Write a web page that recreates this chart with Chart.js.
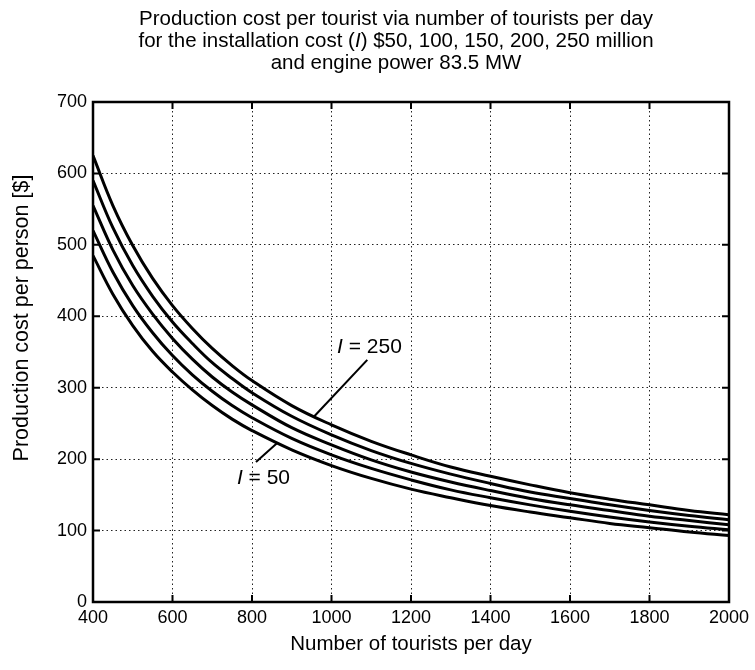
<!DOCTYPE html>
<html>
<head>
<meta charset="utf-8">
<script src="https://cdn.jsdelivr.net/npm/chart.js@4.4.0/dist/chart.umd.min.js"></script>
<style>
  html, body { margin: 0; padding: 0; background: #fff; }
  #wrap { width: 755px; height: 670px; position: relative; }
</style>
</head>
<body>
<div id="wrap"><canvas id="costChart"></canvas></div>
<script>
// values
const tourists = [400, 450, 500, 550, 600, 650, 700, 750, 800, 900, 1000, 1100, 1200, 1300, 1400, 1500, 1600, 1700, 1800, 1900, 2000];
const costI250 = [625, 555, 499, 453, 415, 383, 355, 331, 310, 275, 248, 225, 206, 189, 176, 164, 153, 144, 136, 128, 122];
const costI200 = [590, 524, 471, 428, 392, 362, 335, 313, 293, 260, 234, 212, 194, 179, 166, 154, 145, 136, 128, 121, 115];
const costI150 = [555, 493, 443, 403, 369, 340, 315, 294, 276, 244, 220, 199, 182, 168, 156, 145, 136, 128, 120, 114, 108];
const costI100 = [520, 462, 415, 377, 345, 318, 295, 275, 258, 229, 206, 187, 171, 157, 146, 136, 127, 119, 112, 106, 101];
const costI50  = [485, 431, 387, 351, 322, 297, 275, 256, 240, 213, 191, 173, 158, 146, 135, 126, 118, 110, 104, 98, 93];

const xTicks = [400, 600, 800, 1000, 1200, 1400, 1600, 1800, 2000];
const yTicks = [0, 100, 200, 300, 400, 500, 600, 700];

// title lines as [text, italic] pieces
const titleLines = [
  [['Production cost per tourist via number of tourists per day', false]],
  [['for the installation cost (', false], ['I', true], [') $50, 100, 150, 200, 250 million', false]],
  [['and engine power 83.5 MW', false]]
];
const xTitle = 'Number of tourists per day';
const yTitle = 'Production cost per person [$]';

// curve labels: text anchor and leader line, in data units
const curveLabels = [
  { value: 250, at: [1014, 349], from: [955, 259], to: [1090, 339] },
  { value: 50,  at: [762, 165],  from: [810, 196], to: [862, 222] }
];

const FONT = '"Liberation Sans", Arial, Helvetica, sans-serif';

const seriesList = [costI250, costI200, costI150, costI100, costI50];
const datasets = seriesList.map(s => ({
  data: tourists.map((t, i) => ({ x: t, y: s[i] })),
  borderColor: '#000',
  borderWidth: 3,
  pointRadius: 0,
  fill: false,
  tension: 0.4
}));

function drawPieces(ctx, pieces, cx, y, size) {
  const fontOf = (it) => (it ? 'italic ' : '') + size + 'px ' + FONT;
  let total = 0;
  pieces.forEach(([t, it]) => { ctx.font = fontOf(it); total += ctx.measureText(t).width; });
  let x = cx - total / 2;
  ctx.textAlign = 'left';
  pieces.forEach(([t, it]) => {
    ctx.font = fontOf(it);
    ctx.fillText(t, x, y);
    x += ctx.measureText(t).width;
  });
}

const decorPlugin = {
  id: 'decor',
  afterDraw(chart) {
    const ctx = chart.ctx;
    const a = chart.chartArea;
    const xs = chart.scales.x, ys = chart.scales.y;
    ctx.save();
    // frame
    ctx.strokeStyle = '#000';
    ctx.lineWidth = 2.5;
    ctx.strokeRect(a.left, a.top, a.right - a.left, a.bottom - a.top);
    // inward tick marks
    ctx.lineWidth = 2;
    ctx.beginPath();
    xTicks.forEach(v => {
      const px = xs.getPixelForValue(v);
      ctx.moveTo(px, a.bottom); ctx.lineTo(px, a.bottom - 7);
      ctx.moveTo(px, a.top); ctx.lineTo(px, a.top + 7);
    });
    yTicks.forEach(v => {
      const py = ys.getPixelForValue(v);
      ctx.moveTo(a.left, py); ctx.lineTo(a.left + 7, py);
      ctx.moveTo(a.right, py); ctx.lineTo(a.right - 7, py);
    });
    ctx.stroke();

    ctx.fillStyle = '#000';
    ctx.textBaseline = 'middle';
    // title
    titleLines.forEach((pieces, i) => drawPieces(ctx, pieces, 396, 19 + i * 22, 20.5));

    // y axis title
    ctx.save();
    ctx.translate(22, 318);
    ctx.rotate(-Math.PI / 2);
    drawPieces(ctx, [[yTitle, false]], 0, 0, 21.5);
    ctx.restore();

    // curve labels
    curveLabels.forEach(lbl => {
      ctx.strokeStyle = '#000';
      ctx.lineWidth = 2;
      ctx.beginPath();
      ctx.moveTo(xs.getPixelForValue(lbl.from[0]), ys.getPixelForValue(lbl.from[1]));
      ctx.lineTo(xs.getPixelForValue(lbl.to[0]), ys.getPixelForValue(lbl.to[1]));
      ctx.stroke();
      let tx = xs.getPixelForValue(lbl.at[0]);
      const ty = ys.getPixelForValue(lbl.at[1]);
      ctx.textAlign = 'left';
      ctx.textBaseline = 'alphabetic';
      ctx.font = 'italic 21px ' + FONT;
      ctx.fillText('I', tx, ty);
      tx += ctx.measureText('I').width;
      ctx.font = '21px ' + FONT;
      ctx.fillText(' = ' + lbl.value, tx, ty);
    });
    ctx.restore();
  }
};

new Chart(document.getElementById('costChart'), {
  type: 'line',
  data: { datasets },
  plugins: [decorPlugin],
  options: {
    responsive: true,
    maintainAspectRatio: false,
    animation: false,
    layout: { padding: { top: 102, right: 26, bottom: 0, left: 0 } },
    plugins: {
      legend: { display: false },
      title: { display: false },
      tooltip: { enabled: false }
    },
    scales: {
      x: {
        type: 'linear',
        min: 400,
        max: 2000,
        afterBuildTicks: (scale) => { scale.ticks = xTicks.map(v => ({ value: v })); },
        afterFit: (scale) => { scale.height = 68; },
        ticks: { color: '#000', font: { family: FONT, size: 18 }, padding: 5, maxRotation: 0, callback: (v) => String(v) },
        grid: { color: '#222', lineWidth: 1, drawTicks: false },
        border: { display: false, dash: [1.5, 3] },
        title: { display: true, text: xTitle, color: '#000', font: { family: FONT, size: 20.5 }, padding: { top: 0, bottom: 13 } }
      },
      y: {
        min: 0,
        max: 700,
        afterBuildTicks: (scale) => { scale.ticks = yTicks.map(v => ({ value: v })); },
        afterFit: (scale) => { scale.width = 93; },
        ticks: { color: '#000', font: { family: FONT, size: 18 }, padding: 6, callback: (v) => String(v) },
        grid: { color: '#222', lineWidth: 1, drawTicks: false },
        border: { display: false, dash: [1.5, 3] },
        title: { display: false }
      }
    }
  }
});
</script>
</body>
</html>
